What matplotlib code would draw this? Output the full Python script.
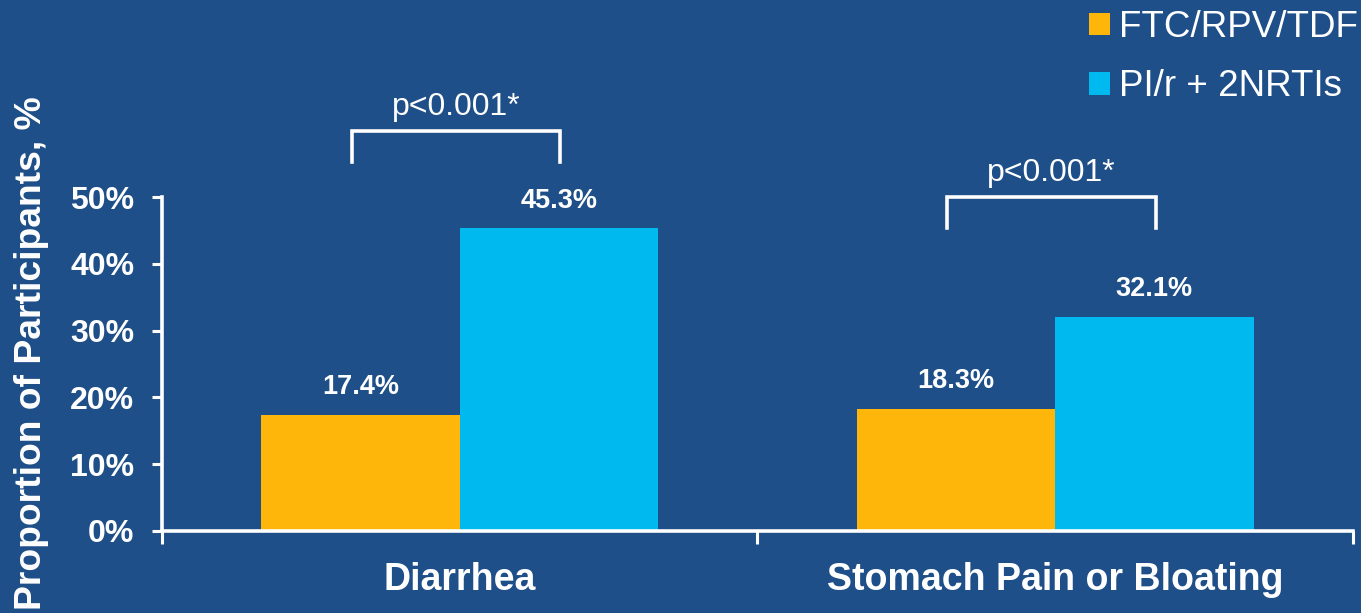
import matplotlib
matplotlib.use("Agg")
import matplotlib.pyplot as plt
import numpy as np

categories = ["Diarrhea", "Stomach Pain or Bloating"]
series_names = ["FTC/RPV/TDF", "PI/r + 2NRTIs"]
ftc_rpv_tdf = [17.4, 18.3]
pi_r_2nrtis = [45.3, 32.1]
p_labels = ["p<0.001*", "p<0.001*"]
y_ticks = [0, 10, 20, 30, 40, 50]

BG = "#1F4F88"
ORANGE = "#FFB60B"
BLUE = "#00B9EE"
WHITE = "white"

plt.rcParams["font.family"] = ["Liberation Sans", "DejaVu Sans"]

fig = plt.figure(figsize=(13.61, 6.13), dpi=100, facecolor=BG)
ax = fig.add_axes([0.119, 0.1338, 0.875, 0.5448], facecolor=BG)

x = np.arange(len(categories))
w = 1 / 3
ax.bar(x - w / 2, ftc_rpv_tdf, width=w, color=ORANGE, label=series_names[0], zorder=2)
ax.bar(x + w / 2, pi_r_2nrtis, width=w, color=BLUE, label=series_names[1], zorder=2)

for xi, v in zip(x - w / 2, ftc_rpv_tdf):
    ax.text(xi, v + 2.2, f"{v}%", ha="center", va="bottom", color=WHITE,
            fontsize=19.5, fontweight="bold")
for xi, v in zip(x + w / 2, pi_r_2nrtis):
    ax.text(xi, v + 2.2, f"{v}%", ha="center", va="bottom", color=WHITE,
            fontsize=19.5, fontweight="bold")

# significance brackets above each pair
bracket_levels = [(55.2, 59.9), (45.4, 50.0)]
for xi, (lo, hi), lab in zip(x, bracket_levels, p_labels):
    x0, x1 = xi - 0.181, xi + 0.169
    ax.plot([x0, x0, x1, x1], [lo, hi, hi, lo], color=WHITE, lw=2.6,
            clip_on=False, solid_joinstyle="miter")
    ax.text(xi - 0.006, hi + 1.3, lab, ha="center", va="bottom", color=WHITE,
            fontsize=23, clip_on=False)

ax.set_xlim(-0.5, 1.5)
ax.set_ylim(0, 50)
ax.set_yticks(y_ticks)
ax.set_yticklabels([f"{t}%" for t in y_ticks], fontsize=23, fontweight="bold", color=WHITE)
ax.set_xticks(x)
ax.set_xticklabels(categories, fontsize=27, fontweight="bold", color=WHITE)
ax.set_xticks([-0.5, 0.5, 1.5], minor=True)
ax.tick_params(axis="x", which="major", length=0, pad=22)
ax.tick_params(axis="x", which="minor", length=9, width=2.2, color=WHITE, direction="out")
ax.tick_params(axis="y", length=7, width=2.2, color=WHITE, direction="out", pad=13)

for s in ["top", "right"]:
    ax.spines[s].set_visible(False)
for s in ["left", "bottom"]:
    ax.spines[s].set_color(WHITE)
    ax.spines[s].set_linewidth(2.6)

fig.text(0.023, 0.424, "Proportion of Participants, %", rotation=90, ha="center",
         va="center", color=WHITE, fontsize=26.8, fontweight="bold")

leg = fig.legend(loc="upper right", bbox_to_anchor=(1.022, 1.038), frameon=False,
                 fontsize=26.5, labelcolor=WHITE, handlelength=0.55, handleheight=0.55,
                 handletextpad=0.25, labelspacing=0.67)

fig.savefig("out.png", dpi=100, facecolor=BG)
